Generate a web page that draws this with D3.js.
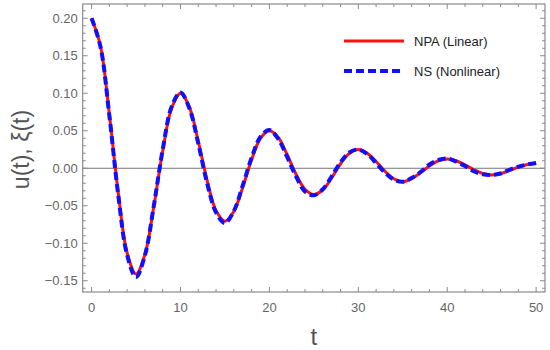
<!DOCTYPE html>
<html>
<head>
<meta charset="utf-8">
<script src="https://cdn.jsdelivr.net/npm/d3@7"></script>
<style>
  body { margin: 0; background: #fff; }
  svg { display: block; font-family: "Liberation Sans", Arial, sans-serif; }
</style>
</head>
<body>
<div id="chart"></div>
<script>
// values, one per unit of t
const tValues = d3.range(0, 51);

const npaLinear = [
  0.200, 0.163, 0.072, -0.033, -0.113, -0.141, -0.115, -0.051, 0.023, 0.080,
  0.100, 0.0815, 0.036, -0.0165, -0.0565, -0.0705, -0.0575, -0.0255, 0.0115, 0.040,
  0.050, 0.041, 0.018, -0.008, -0.028, -0.035, -0.029, -0.013, 0.006, 0.020,
  0.025, 0.020, 0.009, -0.004, -0.014, -0.018, -0.014, -0.006, 0.003, 0.010,
  0.0125, 0.010, 0.0045, -0.002, -0.007, -0.009, -0.007, -0.003, 0.0015, 0.005,
  0.0065
];

const nsNonlinear = [
  0.200, 0.162, 0.070, -0.036, -0.116, -0.145, -0.116, -0.050, 0.025, 0.082,
  0.101, 0.080, 0.033, -0.020, -0.059, -0.073, -0.057, -0.023, 0.014, 0.042,
  0.051, 0.039, 0.015, -0.011, -0.031, -0.036, -0.028, -0.011, 0.008, 0.021,
  0.025, 0.019, 0.007, -0.006, -0.015, -0.018, -0.013, -0.005, 0.005, 0.011,
  0.013, 0.009, 0.003, -0.004, -0.008, -0.009, -0.007, -0.002, 0.002, 0.005,
  0.007
];

const xTicks = [0, 10, 20, 30, 40, 50];
const yTicks = [-0.15, -0.10, -0.05, 0.00, 0.05, 0.10, 0.15, 0.20];
const seriesNames = ["NPA (Linear)", "NS (Nonlinear)"];

const width = 550, height = 350;
const plot = { left: 82.7, right: 545, top: 4, bottom: 292 };

const svg = d3.select("#chart").append("svg")
  .attr("width", width)
  .attr("height", height);

const x = d3.scaleLinear().domain([-1, 51]).range([plot.left, plot.right]);
const y = d3.scaleLinear().domain([-0.165, 0.219]).range([plot.bottom, plot.top]);

const frameColor = "#8a8a8a";
const textColor = "#666";

// =============================
// ZERO LINE
// =============================
svg.append("line")
  .attr("x1", plot.left).attr("x2", plot.right)
  .attr("y1", y(0)).attr("y2", y(0))
  .attr("stroke", "#777")
  .attr("stroke-width", 1);

// =============================
// CURVES
// =============================
const line = d3.line()
  .x((d, i) => x(tValues[i]))
  .y(d => y(d))
  .curve(d3.curveCatmullRom.alpha(0.5));

svg.append("path")
  .attr("d", line(npaLinear))
  .attr("fill", "none")
  .attr("stroke", "#ff1010")
  .attr("stroke-width", 3);

svg.append("path")
  .attr("d", line(nsNonlinear))
  .attr("fill", "none")
  .attr("stroke", "#1010ff")
  .attr("stroke-width", 4)
  .attr("stroke-dasharray", "8,4");

// =============================
// FRAME + TICKS (inward on all four sides)
// =============================
svg.append("rect")
  .attr("x", plot.left).attr("y", plot.top)
  .attr("width", plot.right - plot.left).attr("height", plot.bottom - plot.top)
  .attr("fill", "none")
  .attr("stroke", frameColor)
  .attr("stroke-width", 1.2);

const xMinor = d3.range(0, 51, 2).filter(v => !xTicks.includes(v));
const yMinor = d3.range(-16, 22).map(v => v / 100).filter(v => !yTicks.some(t => Math.abs(t - v) < 1e-9));

const ticks = svg.append("g").attr("stroke", frameColor).attr("stroke-width", 1);

function tickX(v, len) {
  ticks.append("line").attr("x1", x(v)).attr("x2", x(v)).attr("y1", plot.bottom).attr("y2", plot.bottom - len);
  ticks.append("line").attr("x1", x(v)).attr("x2", x(v)).attr("y1", plot.top).attr("y2", plot.top + len);
}
function tickY(v, len) {
  ticks.append("line").attr("x1", plot.left).attr("x2", plot.left + len).attr("y1", y(v)).attr("y2", y(v));
  ticks.append("line").attr("x1", plot.right).attr("x2", plot.right - len).attr("y1", y(v)).attr("y2", y(v));
}
xTicks.forEach(v => tickX(v, 5));
xMinor.forEach(v => tickX(v, 3));
yTicks.forEach(v => tickY(v, 5));
yMinor.forEach(v => tickY(v, 3));

// =============================
// TICK LABELS
// =============================
svg.append("g").selectAll("text")
  .data(xTicks)
  .enter().append("text")
  .attr("x", d => x(d))
  .attr("y", plot.bottom + 20)
  .attr("text-anchor", "middle")
  .attr("font-size", 13)
  .attr("fill", textColor)
  .text(d => d);

svg.append("g").selectAll("text")
  .data(yTicks)
  .enter().append("text")
  .attr("x", plot.left - 5)
  .attr("y", d => y(d))
  .attr("dy", "0.35em")
  .attr("text-anchor", "end")
  .attr("font-size", 13)
  .attr("fill", textColor)
  .text(d => d.toFixed(2).replace("-", "\u2212"));

// =============================
// AXIS LABELS
// =============================
svg.append("text")
  .attr("x", x(25))
  .attr("y", 345)
  .attr("text-anchor", "middle")
  .attr("font-size", 24)
  .attr("fill", "#555")
  .text("t");

svg.append("text")
  .attr("transform", `translate(29, ${y(0.025)}) rotate(-90)`)
  .attr("text-anchor", "middle")
  .attr("font-size", 23)
  .attr("fill", "#555")
  .text("u(t), \u03BE(t)");

// =============================
// LEGEND
// =============================
const legend = svg.append("g");
const legendRows = [
  { name: seriesNames[0], color: "#ff1010", width: 3, dash: null, y: 41 },
  { name: seriesNames[1], color: "#1010ff", width: 4, dash: "8,4", y: 71 }
];
legendRows.forEach(r => {
  legend.append("line")
    .attr("x1", 344).attr("x2", 404)
    .attr("y1", r.y).attr("y2", r.y)
    .attr("stroke", r.color)
    .attr("stroke-width", r.width)
    .attr("stroke-dasharray", r.dash);
  legend.append("text")
    .attr("x", 414)
    .attr("y", r.y)
    .attr("dy", "0.35em")
    .attr("font-size", 13)
    .attr("fill", "#222")
    .text(r.name);
});
</script>
</body>
</html>
